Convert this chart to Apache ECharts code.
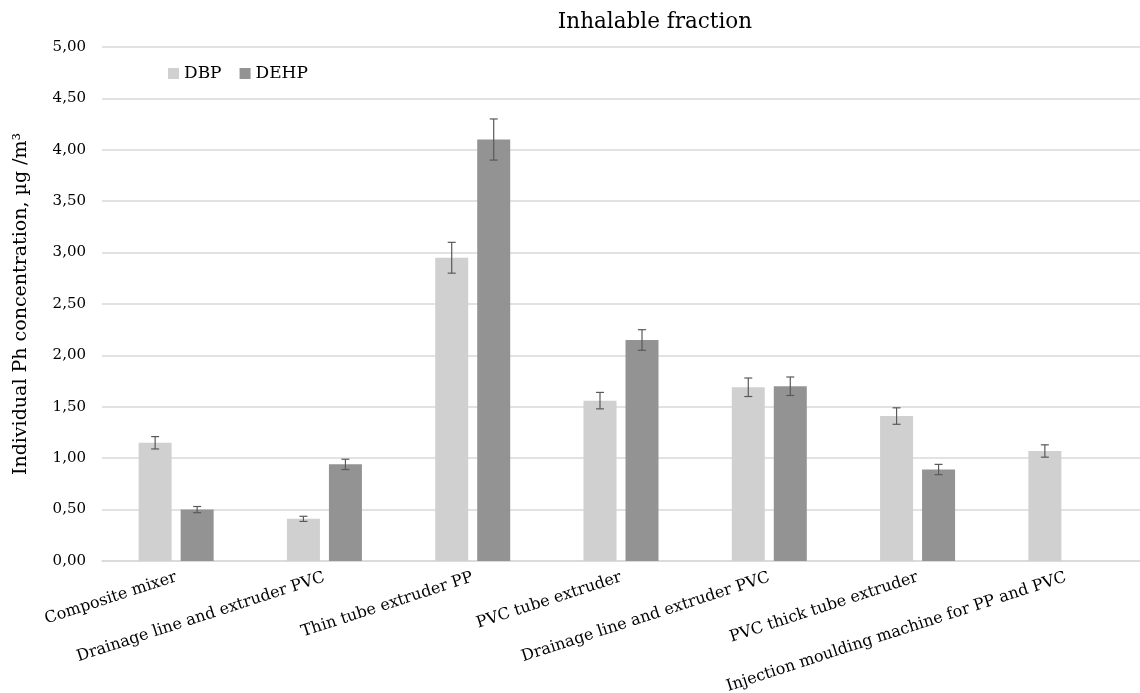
<!DOCTYPE html>
<html><head><meta charset="utf-8">
<script src="https://cdn.jsdelivr.net/npm/echarts@6/dist/echarts.min.js"></script>
<style>html,body{margin:0;padding:0;background:#fff}#c{width:1140px;height:693px}</style>
</head><body><div id="c"></div>
<script>
const categories = ["Composite mixer","Drainage line and extruder PVC","Thin tube extruder PP","PVC tube extruder","Drainage line and extruder PVC","PVC thick tube extruder","Injection moulding machine for PP and PVC"];
const dbp = [1.15, 0.41, 2.95, 1.56, 1.69, 1.41, 1.07];
const dbpErr = [0.06, 0.025, 0.15, 0.08, 0.09, 0.08, 0.06];
const dehp = [0.50, 0.94, 4.10, 2.15, 1.70, 0.89, null];
const dehpErr = [0.03, 0.05, 0.20, 0.10, 0.09, 0.05, null];
const FONT = "DejaVu Serif";
const BW = 33, GAP = 9;

function errSeries(vals, errs, side){
  return {
    type:'custom', z:5, silent:true,
    data: vals.map((v,i)=> v==null?null:[i, v, errs[i]]).filter(d=>d),
    renderItem:(params, api)=>{
      const i = api.value(0), v = api.value(1), e = api.value(2);
      const off = side*(BW+GAP)/2;
      const top = api.coord([i, v+e]), bot = api.coord([i, v-e]);
      const x = top[0]+off, cw = 4;
      const st = {stroke:'#595959', lineWidth:1.2};
      return {type:'group', children:[
        {type:'line', shape:{x1:x,y1:top[1],x2:x,y2:bot[1]}, style:st},
        {type:'line', shape:{x1:x-cw,y1:top[1],x2:x+cw,y2:top[1]}, style:st},
        {type:'line', shape:{x1:x-cw,y1:bot[1],x2:x+cw,y2:bot[1]}, style:st}
      ]};
    }
  };
}

const chart = echarts.init(document.getElementById('c'));
chart.setOption({
  animation:false,
  textStyle:{fontFamily:FONT},
  title:{text:'Inhalable fraction', left:650, top:6, textAlign:'center',
    textStyle:{fontFamily:FONT, fontSize:21.5, fontWeight:'normal', color:'#000'}},
  legend:{data:['DBP','DEHP'], left:163, top:60, icon:'rect', itemWidth:11, itemHeight:11, itemGap:18,
    textStyle:{fontFamily:FONT, fontSize:17, color:'#000'}},
  grid:{left:102, right:0, top:47, bottom:132, outerBoundsMode:'none', containLabel:false},
  xAxis:{type:'category', data:categories,
    axisLine:{lineStyle:{color:'#d9d9d9', width:1.5}}, axisTick:{show:false},
    axisLabel:{rotate:18, interval:0, fontFamily:FONT, fontSize:16, color:'#000', margin:16}},
  yAxis:{type:'value', min:0, max:5, interval:0.5,
    name:'Individual Ph concentration, µg /m³', nameLocation:'middle', nameGap:71,
    nameTextStyle:{fontFamily:FONT, fontSize:19, color:'#000'},
    axisLine:{show:false}, axisTick:{show:false},
    splitLine:{lineStyle:{color:'#d9d9d9', width:1.5}},
    axisLabel:{formatter:v=>v.toFixed(2).replace('.',','), fontFamily:FONT, fontSize:15, color:'#000', margin:16}},
  series:[
    {name:'DBP', type:'bar', data:dbp, barWidth:BW, barGap:(GAP/BW*100)+'%', itemStyle:{color:'#d0d0d0'}},
    {name:'DEHP', type:'bar', data:dehp, barWidth:BW, itemStyle:{color:'#939393'}},
    errSeries(dbp, dbpErr, -1),
    errSeries(dehp, dehpErr, 1)
  ]
});
</script></body></html>
